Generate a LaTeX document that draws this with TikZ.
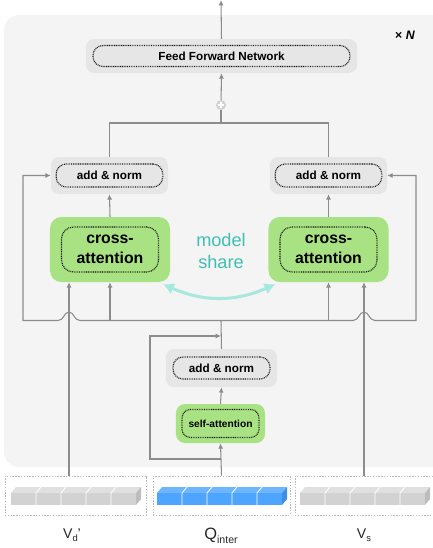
\documentclass[tikz,border=0pt]{standalone}
\usepackage{fontspec}
\setmainfont{Liberation Sans}
\usetikzlibrary{arrows.meta}
\definecolor{bggray}{HTML}{F4F4F4}
\definecolor{boxgray}{HTML}{E6E6E6}
\definecolor{attgreen}{HTML}{A9E283}
\definecolor{linegray}{HTML}{8C8C8C}
\definecolor{shareteal}{HTML}{3FBFB4}
\definecolor{sharearrow}{HTML}{A6E8DE}
\definecolor{inputdot}{HTML}{B8B8B8}
\definecolor{vg}{HTML}{D2D2D2}
\definecolor{vgt}{HTML}{E0E0E0}
\definecolor{vgs}{HTML}{BDBDBD}
\definecolor{vb}{HTML}{4EA5FF}
\definecolor{vbt}{HTML}{6DB6FF}
\definecolor{vbs}{HTML}{3B8DE6}

\begin{document}
\begin{tikzpicture}[x=0.03cm,y=-0.03cm,
  line/.style={draw=linegray,line width=0.9pt},
  arr/.style={line,-{Latex[length=1.6mm,width=1.5mm]}},
  outbox/.style={fill=boxgray,rounded corners=0.24cm,inner sep=0pt},
  attbox/.style={fill=attgreen,rounded corners=0.34cm,inner sep=0pt},
  inbox/.style={draw=black!90,dash pattern=on 0.75pt off 0.75pt,line width=1pt,rounded corners=0.3cm,inner sep=0pt,align=center},
  inputbox/.style={draw=inputdot,dash pattern=on 1.2pt off 1.2pt,line width=0.8pt,minimum height=1.17cm,inner sep=0pt},
  anfont/.style={font=\bfseries\fontsize{10}{12}\selectfont}]
\useasboundingbox (0,0) rectangle (433,548);
\fill[bggray,rounded corners=0.45cm] (4,15) rectangle (445,467);

% feed forward part
\node[outbox,minimum width=8.13cm,minimum height=1.02cm] (ffn) at (221.5,56) {};
\node[inbox,anfont,minimum width=7.71cm,minimum height=0.63cm] (ffnt) at (221.5,56) {Feed Forward Network};
\node[font=\bfseries\fontsize{10.5}{12}\selectfont] (times) at (405,35) {× \textit{N}};
\coordinate (top) at (221,0);
\draw[arr] (ffn.north) -- (top);
\node[circle,fill=black!18,minimum size=0.3cm,inner sep=0pt,
  path picture={\draw[white,line width=1.2pt] (path picture bounding box.center) +(-3,0) -- +(3,0) +(0,-3) -- +(0,3);}] (plus) at (221,105) {};
\draw[arr] (plus) -- (ffn.south);

% two cross-attention branches
\node[outbox,minimum width=3.51cm,minimum height=1.11cm] (anl) at (109.5,175.5) {};
\node[inbox,anfont,minimum width=3.2cm,minimum height=0.69cm] (anlt) at (109.5,175.5) {add \& norm};
\node[outbox,minimum width=3.51cm,minimum height=1.11cm] (anr) at (328.5,175.5) {};
\node[inbox,anfont,minimum width=3.2cm,minimum height=0.69cm] (anrt) at (328.5,175.5) {add \& norm};
\node[attbox,minimum width=3.6cm,minimum height=1.95cm] (cal) at (110,249.5) {};
\node[inbox,rounded corners=0.36cm,minimum width=2.91cm,minimum height=1.35cm,font=\bfseries\fontsize{13.5}{17}\selectfont] (calt) at (110,249.5) {cross-\\attention};
\node[attbox,minimum width=3.6cm,minimum height=1.95cm] (car) at (328.5,249.5) {};
\node[inbox,rounded corners=0.36cm,minimum width=2.91cm,minimum height=1.35cm,font=\bfseries\fontsize{13.5}{17}\selectfont] (cart) at (328.5,249.5) {cross-\\attention};
\node[text=shareteal,align=center,font=\fontsize{15.5}{19.5}\selectfont] (share) at (221,251) {model\\share};
\draw[sharearrow,line width=2.6pt,{Latex[length=3.2mm,width=3.6mm]}-{Latex[length=3.2mm,width=3.6mm]}] ([shift={(-7,2)}]cal.south east) to[bend right=24] ([shift={(7,2)}]car.south west);

\coordinate (join) at (221,123);
\draw[line] (anl.north) |- (join) -| (anr.north);
\draw[line] (join) -- (plus);
\draw[arr] (cal.north) -- (anl.south);
\draw[arr] (car.north) -- (anr.south);

% self-attention part
\node[outbox,minimum width=3.33cm,minimum height=1.14cm] (anc) at (221.5,368) {};
\node[inbox,anfont,minimum width=2.91cm,minimum height=0.66cm] (anct) at (221.5,368) {add \& norm};
\node[attbox,rounded corners=0.27cm,minimum width=2.67cm,minimum height=1.17cm] (sa) at (220.5,423.5) {};
\node[inbox,rounded corners=0.25cm,minimum width=2.31cm,minimum height=0.84cm,font=\bfseries\fontsize{8.7}{10}\selectfont] (sat) at (220.5,423.5) {self-attention};
\draw[arr] (sa.north) -- (anc.south);

% shared bus and skips
\coordinate (bus) at (221,320.5);
\coordinate (skipL) at (23,175.5);
\coordinate (skipR) at (416,175.5);
\draw[line] (anc.north) -- (bus);
\draw[arr] (bus) -- (80,320.5) .. controls (74,320.5) and (74,312) .. (69,312) .. controls (64,312) and (64,320.5) .. (58,320.5) -| (skipL) -- (anl.west);
\draw[arr] (bus) -- (353,320.5) .. controls (359,320.5) and (359,312) .. (364,312) .. controls (369,312) and (369,320.5) .. (375,320.5) -| (skipR) -- (anr.east);
\draw[arr] (cal.south |- bus) -- (cal.south);
\draw[arr] (car.south |- bus) -- (car.south);

% inputs
\node[inputbox,minimum width=4.23cm] (vdbox) at (75.5,495.5) {};
\node[inputbox,minimum width=4.11cm] (qbox) at (221.5,495.5) {};
\node[inputbox,minimum width=4.23cm] (vsbox) at (365.5,495.5) {};
\foreach \x/\cf/\ct/\cs in {11/vg/vgt/vgs,157/vb/vbt/vbs,300/vg/vgt/vgs}{
  \fill[\ct] (\x,493) -- (\x+5,487) -- (\x+130,487) -- (\x+125,493) -- cycle;
  \fill[\cs] (\x+125,493) -- (\x+130,487) -- (\x+130,499) -- (\x+125,505) -- cycle;
  \fill[\cf] (\x,493) rectangle (\x+125,505);
  \foreach \i in {1,...,4}
    \draw[white,line width=0.7pt] (\x+25*\i,505) -- (\x+25*\i,493) -- (\x+25*\i+5,487);
}
\coordinate (vdtop) at (69,476);
\coordinate (vstop) at (364,476);
\coordinate (res0) at (221,459);
\coordinate (resc) at (150,336);
\coordinate (resend) at (221,336);
\draw[arr] (vdtop) -- (vdtop |- cal.south);
\draw[arr] (vstop) -- (vstop |- car.south);
\draw[arr] (qbox.north) -- (sa.south);
\draw[arr] (res0) -| (resc) -- (resend);

\node[font=\fontsize{12}{14}\selectfont,text=black!85] (vdlab) at (72,535) {V\raisebox{-0.35ex}{\fontsize{8}{9}\selectfont d}'};
\node[font=\fontsize{14}{16}\selectfont,text=black!85] (qlab) at (221,536) {Q\raisebox{-0.4ex}{\fontsize{9}{10}\selectfont inter}};
\node[font=\fontsize{12}{14}\selectfont,text=black!85] (vslab) at (364,535) {V\raisebox{-0.35ex}{\fontsize{8}{9}\selectfont s}};
\end{tikzpicture}
\end{document}
